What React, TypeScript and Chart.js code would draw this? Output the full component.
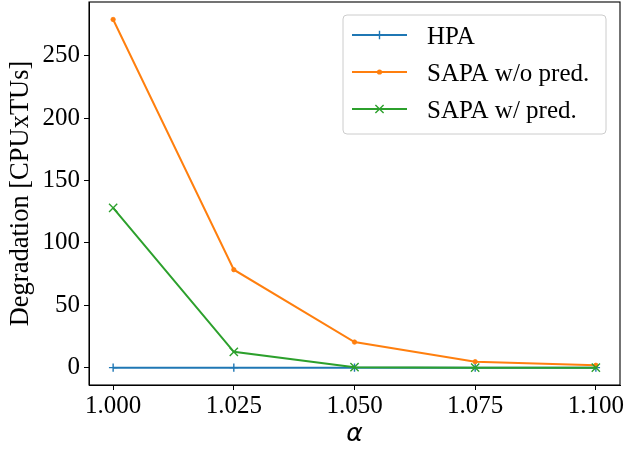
import React, { useEffect, useRef } from "react";
import { Chart, registerables } from "chart.js";

Chart.register(...registerables);

const alphas = [1.0, 1.025, 1.05, 1.075, 1.1];
const hpaValues = [0, 0, 0, 0, 0];
const sapaNoPredValues = [279, 78.5, 20.5, 4.8, 1.9];
const sapaPredValues = [128, 12.7, 0.4, 0, 0];
const xTickValues = [1.0, 1.025, 1.05, 1.075, 1.1];
const yTickValues = [0, 50, 100, 150, 200, 250];
const seriesNames = ["HPA", "SAPA w/o pred.", "SAPA w/ pred."];
const seriesColors = ["#1f77b4", "#ff7f0e", "#2ca02c"];
const seriesMarkers = ["plus", "dot", "x"];
const xAxisTitle = "α";
const yAxisTitle = "Degradation [CPUxTUs]";

const SERIF = "'Liberation Serif', 'Times New Roman', serif";

function drawMarker(ctx: CanvasRenderingContext2D, kind: string, x: number, y: number, color: string) {
  ctx.save();
  ctx.strokeStyle = color;
  ctx.fillStyle = color;
  ctx.lineWidth = 1.4;
  ctx.beginPath();
  if (kind === "plus") {
    ctx.moveTo(x - 4.2, y);
    ctx.lineTo(x + 4.2, y);
    ctx.moveTo(x, y - 4.2);
    ctx.lineTo(x, y + 4.2);
    ctx.stroke();
  } else if (kind === "x") {
    const r = 4.1;
    ctx.moveTo(x - r, y - r);
    ctx.lineTo(x + r, y + r);
    ctx.moveTo(x - r, y + r);
    ctx.lineTo(x + r, y - r);
    ctx.stroke();
  } else {
    ctx.arc(x, y, 2.6, 0, Math.PI * 2);
    ctx.fill();
  }
  ctx.restore();
}

const frameAndLegend = {
  id: "frameAndLegend",
  afterDatasetsDraw(chart: any) {
    const { ctx, chartArea: a } = chart;
    ctx.save();
    // frame (spines)
    ctx.strokeStyle = "#000";
    ctx.lineWidth = 1.1;
    ctx.strokeRect(a.left, a.top, a.right - a.left, a.bottom - a.top);

    // legend
    const bw = 263;
    const bh = 119;
    const bx = a.right - 14 - bw;
    const by = a.top + 13;
    const r = 4;
    ctx.beginPath();
    ctx.moveTo(bx + r, by);
    ctx.arcTo(bx + bw, by, bx + bw, by + bh, r);
    ctx.arcTo(bx + bw, by + bh, bx, by + bh, r);
    ctx.arcTo(bx, by + bh, bx, by, r);
    ctx.arcTo(bx, by, bx + bw, by, r);
    ctx.closePath();
    ctx.fillStyle = "rgba(255,255,255,0.8)";
    ctx.fill();
    ctx.strokeStyle = "#cccccc";
    ctx.lineWidth = 1;
    ctx.stroke();

    ctx.font = `25px ${SERIF}`;
    ctx.textAlign = "left";
    ctx.textBaseline = "alphabetic";
    for (let i = 0; i < seriesNames.length; i++) {
      const lineY = by + 20 + i * 37;
      const x0 = bx + 9;
      const x1 = bx + 64;
      ctx.strokeStyle = seriesColors[i];
      ctx.lineWidth = 2;
      ctx.beginPath();
      ctx.moveTo(x0, lineY);
      ctx.lineTo(x1, lineY);
      ctx.stroke();
      drawMarker(ctx, seriesMarkers[i], (x0 + x1) / 2, lineY, seriesColors[i]);
      ctx.fillStyle = "#000";
      ctx.fillText(seriesNames[i], bx + 84, lineY + 9);
    }
    ctx.restore();
  },
};

export default function App() {
  const ref = useRef<HTMLCanvasElement | null>(null);

  useEffect(() => {
    if (!ref.current) return;
    const mk = (vals: number[]) => alphas.map((x, i) => ({ x, y: vals[i] }));
    const chart = new Chart(ref.current, {
      type: "line",
      data: {
        datasets: [
          {
            label: seriesNames[0],
            data: mk(hpaValues),
            borderColor: seriesColors[0],
            backgroundColor: seriesColors[0],
            borderWidth: 2,
            pointStyle: "cross",
            pointRadius: 4.2,
            pointBorderWidth: 1.4,
            order: 3,
          },
          {
            label: seriesNames[1],
            data: mk(sapaNoPredValues),
            borderColor: seriesColors[1],
            backgroundColor: seriesColors[1],
            borderWidth: 2,
            pointStyle: "circle",
            pointRadius: 2.2,
            pointBorderWidth: 0.8,
            order: 2,
          },
          {
            label: seriesNames[2],
            data: mk(sapaPredValues),
            borderColor: seriesColors[2],
            backgroundColor: seriesColors[2],
            borderWidth: 2,
            pointStyle: "crossRot",
            pointRadius: 5.8,
            pointBorderWidth: 1.4,
            order: 1,
          },
        ],
      },
      options: {
        responsive: false,
        animation: false,
        layout: { autoPadding: false, padding: { top: 2, right: 4, left: 0, bottom: 0 } },
        plugins: {
          legend: { display: false },
          tooltip: { enabled: false },
        },
        scales: {
          x: {
            type: "linear",
            min: 0.995,
            max: 1.105,
            afterBuildTicks: (s: any) => {
              s.ticks = xTickValues.map((v) => ({ value: v }));
            },
            afterFit: (s: any) => {
              s.height = 64;
              s.paddingLeft = 0;
              s.paddingRight = 0;
            },
            ticks: {
              autoSkip: false,
              maxRotation: 0,
              padding: 1,
              color: "#000",
              font: { family: SERIF, size: 25 },
              callback: (v: any) => Number(v).toFixed(3),
            },
            grid: {
              drawOnChartArea: false,
              drawTicks: true,
              tickLength: 5,
              tickWidth: 1,
              tickColor: "#000",
              color: "#000",
            },
            border: { display: true, color: "#000", width: 1 },
            title: {
              display: true,
              text: xAxisTitle,
              color: "#000",
              font: { family: "'DejaVu Sans', sans-serif", style: "italic", size: 25 },
              padding: 0,
            },
          },
          y: {
            type: "linear",
            min: -13.9,
            max: 293,
            afterBuildTicks: (s: any) => {
              s.ticks = yTickValues.map((v) => ({ value: v }));
            },
            afterFit: (s: any) => {
              s.width = 89;
              s.paddingTop = 0;
              s.paddingBottom = 0;
            },
            ticks: {
              padding: 4,
              color: "#000",
              font: { family: SERIF, size: 25 },
            },
            grid: {
              drawOnChartArea: false,
              drawTicks: true,
              tickLength: 5,
              tickWidth: 1,
              tickColor: "#000",
              color: "#000",
            },
            border: { display: true, color: "#000", width: 1 },
            title: {
              display: true,
              text: yAxisTitle,
              color: "#000",
              font: { family: SERIF, size: 26.5 },
              padding: { top: 5, bottom: 0 },
            },
          },
        },
      },
      plugins: [frameAndLegend],
    });
    return () => chart.destroy();
  }, []);

  return (
    <div style={{ position: "absolute", left: 0, top: 0, width: 624, height: 449, background: "#fff" }}>
      <canvas ref={ref} width={624} height={449} style={{ display: "block" }} />
    </div>
  );
}
